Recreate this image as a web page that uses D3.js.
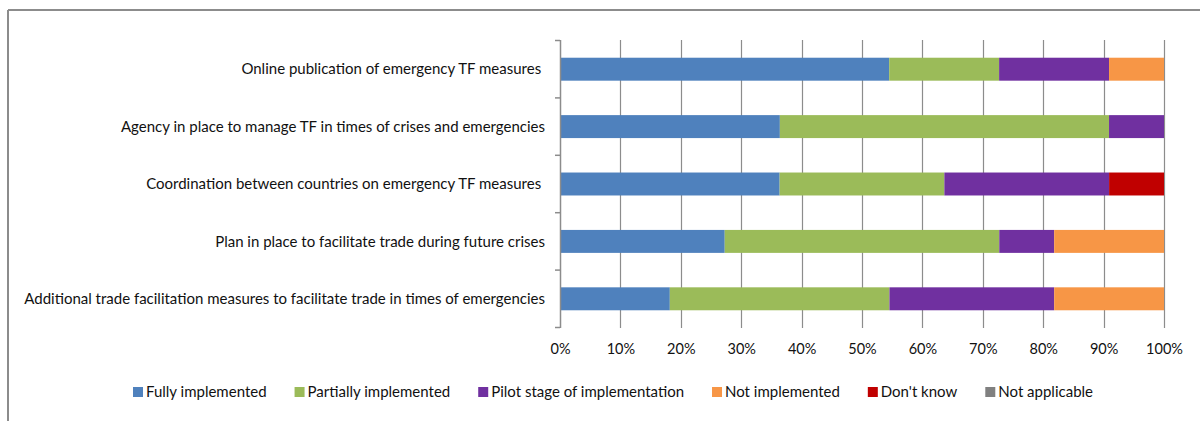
<!DOCTYPE html>
<html lang="en">
<head>
<meta charset="utf-8">
<title>Emergency TF measures</title>
<script src="https://cdn.jsdelivr.net/npm/d3@7"></script>
<style>
  body { margin: 0; background: #fff; }
  text { font-family: "Lato", "Open Sans", sans-serif; fill: #111; }
</style>
</head>
<body>
<script>
// categories, top to bottom
var categories = [
  "Online publication of emergency TF measures ",
  "Agency in place to manage TF in times of crises and emergencies",
  "Coordination between countries on emergency TF measures ",
  "Plan in place to facilitate trade during future crises",
  "Additional trade facilitation measures to facilitate trade in times of emergencies"
];
var seriesNames = ["Fully implemented", "Partially implemented", "Pilot stage of implementation",
                   "Not implemented", "Don't know", "Not applicable"];
var seriesColors = ["#4f81bd", "#9bbb59", "#7030a0", "#f79646", "#c00000", "#808080"];

// shares in percent, one array per series (same order as categories)
var fully     = [54.5, 36.4, 36.4, 27.3, 18.2];
var partially = [18.2, 54.5, 27.3, 45.5, 36.4];
var pilot     = [18.2,  9.1, 27.3,  9.1, 27.3];
var notImpl   = [ 9.1,  0,    0,   18.2, 18.2];
var dontKnow  = [ 0,    0,    9.1,  0,    0  ];
var notAppl   = [ 0,    0,    0,    0,    0  ];
var xTicks = [0, 0.1, 0.2, 0.3, 0.4, 0.5, 0.6, 0.7, 0.8, 0.9, 1];

var W = 1200, H = 421;
var svg = d3.select("body").append("svg").attr("width", W).attr("height", H);

// outer frame (only top and left edges visible)
svg.append("line").attr("x1", 8).attr("x2", W).attr("y1", 10).attr("y2", 10)
   .attr("stroke", "#8c8c8c").attr("stroke-width", 2);
svg.append("line").attr("x1", 8).attr("x2", 8).attr("y1", 10).attr("y2", H)
   .attr("stroke", "#8c8c8c").attr("stroke-width", 2);

var rows = categories.map(function(c, i) {
  return {cat: c, s0: fully[i], s1: partially[i], s2: pilot[i], s3: notImpl[i], s4: dontKnow[i], s5: notAppl[i]};
});
var keys = ["s0", "s1", "s2", "s3", "s4", "s5"];
var stack = d3.stack().keys(keys).offset(d3.stackOffsetExpand);
var layers = stack(rows);

var x = d3.scaleLinear().domain([0, 1]).range([560, 1164]);
var y = d3.scaleBand().domain(categories).range([40.5, 327.5]).paddingInner(0.6).paddingOuter(0.3);

// gridlines
svg.append("g").selectAll("line").data(xTicks.slice(1)).join("line")
   .attr("x1", function(d) { return Math.round(x(d)) + 0.5; })
   .attr("x2", function(d) { return Math.round(x(d)) + 0.5; })
   .attr("y1", 40).attr("y2", 328)
   .attr("stroke", "#8c8c8c").attr("stroke-width", 1.2);

// bars
svg.append("g").selectAll("g").data(layers).join("g")
   .attr("fill", function(d, i) { return seriesColors[i]; })
   .selectAll("rect").data(function(d) { return d; }).join("rect")
   .attr("x", function(d) { return x(d[0]); })
   .attr("width", function(d) { return x(d[1]) - x(d[0]); })
   .attr("y", function(d) { return y(d.data.cat); })
   .attr("height", y.bandwidth());

// y axis: tick marks at category boundaries
var yAxis = svg.append("g");
yAxis.append("line").attr("x1", 560.5).attr("x2", 560.5).attr("y1", 40).attr("y2", 328)
     .attr("stroke", "#8c8c8c").attr("stroke-width", 1.5);
var bounds = d3.range(categories.length + 1).map(function(i) { return 40.5 + i * y.step(); });
yAxis.selectAll(".tk").data(bounds).join("line").attr("class", "tk")
     .attr("x1", 555).attr("x2", 560).attr("y1", function(d) { return d; }).attr("y2", function(d) { return d; })
     .attr("stroke", "#8c8c8c").attr("stroke-width", 1.5);
yAxis.selectAll("text").data(categories).join("text")
     .attr("x", 545).attr("y", function(d) { return y(d) + y.bandwidth() / 2; })
     .attr("dy", "0.35em").attr("text-anchor", "end").attr("font-size", 15)
     .style("white-space", "pre")
     .text(function(d) { return d; });

// x axis labels
var xAxis = d3.axisBottom(x).tickValues(xTicks).tickFormat(d3.format(".0%")).tickSize(0).tickPadding(0);
var gx = svg.append("g").attr("transform", "translate(0,344)").call(xAxis);
gx.select(".domain").remove();
gx.selectAll("text").attr("font-size", 14.5).attr("font-family", null).attr("fill", "#111");

// legend
var legend = svg.append("g");
var lx = 133;
seriesNames.forEach(function(name, i) {
  legend.append("rect").attr("x", lx).attr("y", 387).attr("width", 10).attr("height", 10)
        .attr("fill", seriesColors[i]);
  var t = legend.append("text").attr("x", lx + 13).attr("y", 392).attr("dy", "0.35em")
        .attr("font-size", 15).text(name);
  lx += 13 + t.node().getComputedTextLength() + 28;
});
</script>
</body>
</html>
